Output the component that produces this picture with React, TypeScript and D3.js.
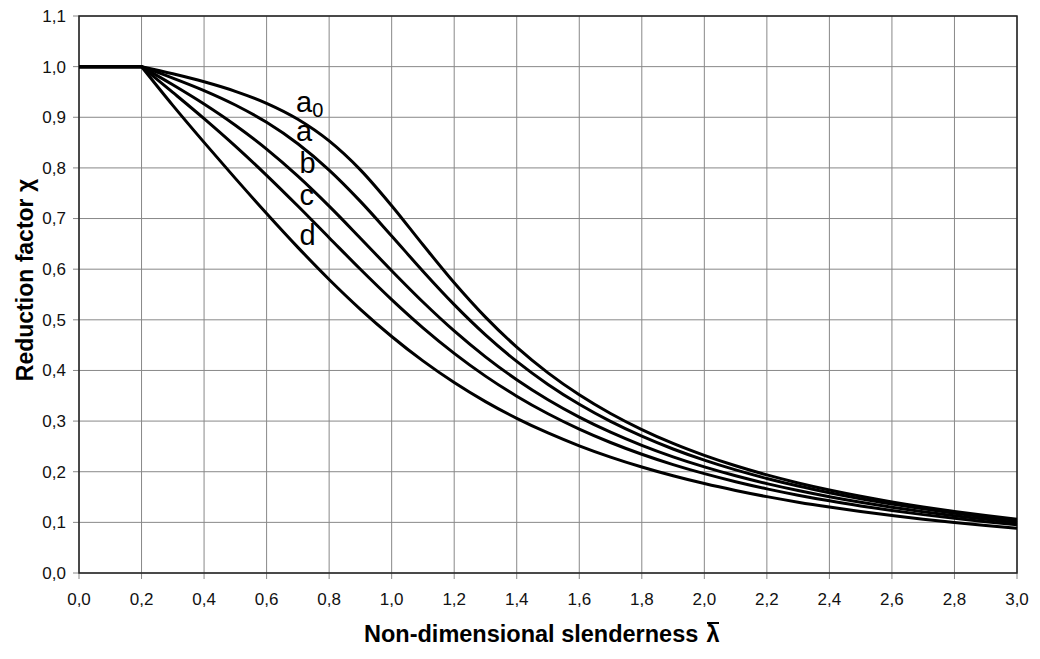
import React from "react";
import { scaleLinear, line, curveMonotoneX, range } from "d3";

const width = 1040;
const height = 659;
const margin = { top: 16, right: 23, bottom: 86, left: 79 };
const innerWidth = width - margin.left - margin.right;
const innerHeight = height - margin.top - margin.bottom;

// slenderness values (x)
const lambdas = [
  0.0, 0.1, 0.2, 0.3, 0.4, 0.5, 0.6, 0.7, 0.8, 0.9, 1.0, 1.1, 1.2, 1.3, 1.4,
  1.5, 1.6, 1.7, 1.8, 1.9, 2.0, 2.1, 2.2, 2.3, 2.4, 2.5, 2.6, 2.7, 2.8, 2.9,
  3.0,
];

// reduction factor per buckling curve
const curveA0 = [
  1, 1, 1, 0.9859, 0.9701, 0.9513, 0.9276, 0.8961, 0.8533, 0.7961, 0.7253,
  0.6482, 0.5732, 0.5053, 0.4461, 0.3953, 0.352, 0.315, 0.2833, 0.2559, 0.2323,
  0.2117, 0.1937, 0.1779, 0.1639, 0.1515, 0.1404, 0.1305, 0.1216, 0.1136,
  0.1063,
];
const curveA = [
  1, 1, 1, 0.9775, 0.9528, 0.9243, 0.89, 0.8477, 0.7957, 0.7339, 0.6656, 0.596,
  0.53, 0.4703, 0.4179, 0.3724, 0.3332, 0.2994, 0.2702, 0.2449, 0.2229, 0.2036,
  0.1867, 0.1717, 0.1585, 0.1467, 0.1362, 0.1267, 0.1182, 0.1105, 0.1036,
];
const curveB = [
  1, 1, 1, 0.9641, 0.9261, 0.8842, 0.8371, 0.7837, 0.7245, 0.6612, 0.597,
  0.5352, 0.4781, 0.4269, 0.3817, 0.3422, 0.3079, 0.2781, 0.2521, 0.2294,
  0.2095, 0.192, 0.1765, 0.1628, 0.1506, 0.1397, 0.1299, 0.1211, 0.1132, 0.106,
  0.0994,
];
const curveC = [
  1, 1, 1, 0.9491, 0.8973, 0.843, 0.7854, 0.7247, 0.6622, 0.5998, 0.5399,
  0.4842, 0.4338, 0.3888, 0.3492, 0.3145, 0.2842, 0.2577, 0.2345, 0.2141,
  0.1962, 0.1803, 0.1662, 0.1537, 0.1425, 0.1325, 0.1234, 0.1153, 0.1079,
  0.1012, 0.0951,
];
const curveD = [
  1, 1, 1, 0.9235, 0.8504, 0.7793, 0.71, 0.6431, 0.5797, 0.5208, 0.4671,
  0.4189, 0.3762, 0.3385, 0.3055, 0.2766, 0.2512, 0.2289, 0.2093, 0.192,
  0.1766, 0.163, 0.1508, 0.1399, 0.1302, 0.1214, 0.1134, 0.1062, 0.0997,
  0.0937, 0.0882,
];

const series = [
  { name: "a", sub: "0", values: curveA0, lx: 0.694, ly: 0.91 },
  { name: "a", sub: "", values: curveA, lx: 0.694, ly: 0.853 },
  { name: "b", sub: "", values: curveB, lx: 0.705, ly: 0.79 },
  { name: "c", sub: "", values: curveC, lx: 0.705, ly: 0.727 },
  { name: "d", sub: "", values: curveD, lx: 0.705, ly: 0.648 },
];

const xTicks = range(0, 31, 2).map((d) => d / 10);
const yTicks = range(0, 12).map((d) => d / 10);
const fmt = (v: number) => v.toFixed(1).replace(".", ",");

// plateau ends at lambda = 0.2
const plateauEnd = 2;

export default function App() {
  const xScale = scaleLinear().domain([0, 3]).range([0, innerWidth]);
  const yScale = scaleLinear().domain([0, 1.1]).range([innerHeight, 0]);

  const flatGen = line<[number, number]>()
    .x((d) => xScale(d[0]))
    .y((d) => yScale(d[1]));
  const curveGen = line<[number, number]>()
    .x((d) => xScale(d[0]))
    .y((d) => yScale(d[1]))
    .curve(curveMonotoneX);

  const pathFor = (values: number[]) => {
    const pts = values.map((v, i) => [lambdas[i], v] as [number, number]);
    const flat = flatGen(pts.slice(0, plateauEnd + 1)) || "";
    const rest = curveGen(pts.slice(plateauEnd)) || "";
    return flat + rest.replace(/^M/, "L");
  };

  return (
    <svg
      width={width}
      height={height}
      style={{
        position: "absolute",
        left: 0,
        top: 0,
        fontFamily: "Arial, 'Liberation Sans', sans-serif",
      }}
    >
      <rect width={width} height={height} fill="white" />
      <g transform={`translate(${margin.left},${margin.top})`}>
        {xTicks.map((t) => (
          <g key={"x" + t} transform={`translate(${xScale(t)},0)`}>
            <line y2={innerHeight + 6} stroke="#888" strokeWidth={1} />
            <text
              y={innerHeight + 32}
              textAnchor="middle"
              fontSize={17}
              fill="#111"
            >
              {fmt(t)}
            </text>
          </g>
        ))}
        {yTicks.map((t) => (
          <g key={"y" + t} transform={`translate(0,${yScale(t)})`}>
            <line x1={-6} x2={innerWidth} stroke="#888" strokeWidth={1} />
            <text
              x={-13}
              dy="0.35em"
              textAnchor="end"
              fontSize={17}
              fill="#111"
            >
              {fmt(t)}
            </text>
          </g>
        ))}
        <rect
          width={innerWidth}
          height={innerHeight}
          fill="none"
          stroke="#222"
          strokeWidth={1.5}
        />
        {series.map((s, i) => (
          <path
            key={i}
            d={pathFor(s.values)}
            fill="none"
            stroke="black"
            strokeWidth={3}
            strokeLinejoin="round"
          />
        ))}
        {series.map((s, i) => (
          <text
            key={"l" + i}
            x={xScale(s.lx)}
            y={yScale(s.ly)}
            fontSize={29}
            fill="black"
          >
            {s.name}
            {s.sub && (
              <tspan fontSize={20} dy={5}>
                {s.sub}
              </tspan>
            )}
          </text>
        ))}
      </g>
      <text x={364} y={642} fontSize={23.5} fontWeight="bold">
        Non-dimensional slenderness
      </text>
      <text x={713} y={642} fontSize={23.5} fontWeight="bold" textAnchor="middle">
        λ
      </text>
      <line x1={707} x2={719} y1={623} y2={623} stroke="black" strokeWidth={2} />
      <text
        transform={`translate(33,280) rotate(-90)`}
        textAnchor="middle"
        fontSize={23}
        fontWeight="bold"
      >
        Reduction factor χ
      </text>
    </svg>
  );
}
